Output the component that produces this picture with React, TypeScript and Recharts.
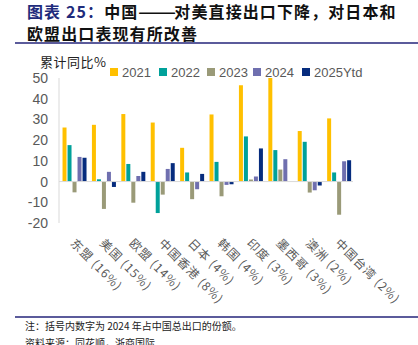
import { BarChart, Bar, XAxis, YAxis, ReferenceLine } from 'recharts';

// categories and share of China's 2024 exports
const regions = ['东盟 (16%)', '美国 (15%)', '欧盟 (14%)', '中国香港 (8%)', '日本 (4%)', '韩国 (4%)', '印度 (3%)', '墨西哥 (3%)', '澳洲 (2%)', '中国台湾 (2%)'];

// cumulative y/y export growth, %
const y2021 = [26.1, 27.4, 32.6, 28.5, 16.3, 32.4, 46.5, 50, 24.4, 30.5];
const y2022 = [17.6, 1.1, 8.5, -15.2, 4.4, 9.5, 21.8, 15.2, 19.2, 4.4];
const y2023 = [-5.2, -13.2, -10.2, -6.3, -8.5, -7.1, 1.0, 5.8, -5.3, -16.0];
const y2024 = [11.9, 4.7, 2.7, 6.1, -3.7, -1.6, 2.4, 10.8, -4.2, 9.8];
const y2025 = [11.5, -2.6, 4.7, 8.9, 3.7, -1.3, 16.0, null, -1.9, 10.3];

const yTicks = [-20, -10, 0, 10, 20, 30, 40, 50];

const series = [
  { key: 'y2021', name: '2021', color: '#FFC000' },
  { key: 'y2022', name: '2022', color: '#00A19A' },
  { key: 'y2023', name: '2023', color: '#9A9A78' },
  { key: 'y2024', name: '2024', color: '#6F6FAF' },
  { key: 'y2025', name: '2025Ytd', color: '#062C7E' },
];

const data = regions.map((r, i) => ({
  region: r,
  y2021: y2021[i],
  y2022: y2022[i],
  y2023: y2023[i],
  y2024: y2024[i],
  y2025: y2025[i],
}));

const CJK = '"Noto Sans CJK SC", sans-serif';
const NUM = '"Liberation Sans", Arial, sans-serif';

const RegionTick = ({ x, y, payload }: any) => (
  <text
    transform={`translate(${x - 4},${y + 21}) rotate(45)`}
    fill="#595959"
    fontSize={12}
    fontFamily={CJK}
    letterSpacing={1}
    textAnchor="start"
  >
    {payload.value}
  </text>
);

const legendX = [110, 159, 207, 253, 302];

const titleStyle = { position: 'absolute' as const, left: 27, fontFamily: CJK, fontSize: 16, fontWeight: 'bold' as const, letterSpacing: 1.1, lineHeight: '23px', color: '#111', whiteSpace: 'nowrap' as const };

export default function App() {
  return (
    <div style={{ position: 'absolute', left: 0, top: 0, width: 418, height: 345, background: '#fff', overflow: 'hidden' }}>
      {/* title */}
      <div style={{ ...titleStyle, top: 0 }}>
        <span style={{ color: '#1F2C7C' }}>图表 25：</span>中国
        <span style={{ display: 'inline-block', width: 36 }}>
          <span style={{ display: 'inline-block', letterSpacing: 0, transform: 'scaleX(1.4)', transformOrigin: 'left center' }}>——</span>
        </span>
        对美直接出口下降，对日本和
      </div>
      <div style={{ ...titleStyle, top: 22 }}>欧盟出口表现有所改善</div>
      <div style={{ position: 'absolute', left: 15, top: 42, width: 403, height: 1.5, background: '#5B5B9B' }} />

      <div style={{ position: 'absolute', left: 40, top: 54, lineHeight: '16px', fontFamily: CJK, fontSize: 13, letterSpacing: 0.5, color: '#222' }}>累计同比%</div>

      {/* legend */}
      {series.map((s, i) => (
        <div key={s.key} style={{ position: 'absolute', left: legendX[i], top: 64, height: 16, display: 'flex', alignItems: 'center', fontFamily: NUM, fontSize: 13, color: '#595959' }}>
          <span style={{ display: 'inline-block', width: 8, height: 8, background: s.color, marginRight: 4 }} />
          {s.name}
        </div>
      ))}

      <div style={{ position: 'absolute', left: 0, top: 0 }}>
        <BarChart
          width={418}
          height={345}
          data={data}
          margin={{ top: 78, right: 65, bottom: 0, left: 0 }}
          barCategoryGap="12%"
          barGap={1}
        >
          <YAxis
            width={59}
            domain={[-20, 50]}
            ticks={yTicks}
            interval={0}
            axisLine={{ stroke: '#D9D9D9' }}
            tickLine={false}
            tickSize={6}
            tickMargin={5}
            tick={{ fill: '#595959', fontSize: 14, fontFamily: NUM }}
          />
          <XAxis
            dataKey="region"
            height={122}
            interval={0}
            axisLine={false}
            tickLine={false}
            tickSize={0}
            tickMargin={0}
            tick={<RegionTick />}
          />
          <ReferenceLine y={0} stroke="#D9D9D9" strokeWidth={1} />
          {series.map((s) => (
            <Bar key={s.key} dataKey={s.key} name={s.name} fill={s.color} isAnimationActive={false} />
          ))}
        </BarChart>
      </div>

      {/* footnote */}
      <div style={{ position: 'absolute', left: 15, top: 316, width: 403, height: 1.5, background: '#5B5B9B' }} />
      <div style={{ position: 'absolute', left: 25, top: 320, fontFamily: CJK, fontSize: 10, lineHeight: '12px', color: '#222', whiteSpace: 'nowrap' }}>
        注：括号内数字为 2024 年占中国总出口的份额。
      </div>
      <div style={{ position: 'absolute', left: 25, top: 337, fontFamily: CJK, fontSize: 10, lineHeight: '12px', color: '#222', whiteSpace: 'nowrap' }}>
        资料来源：同花顺，浙商国际
      </div>
    </div>
  );
}
